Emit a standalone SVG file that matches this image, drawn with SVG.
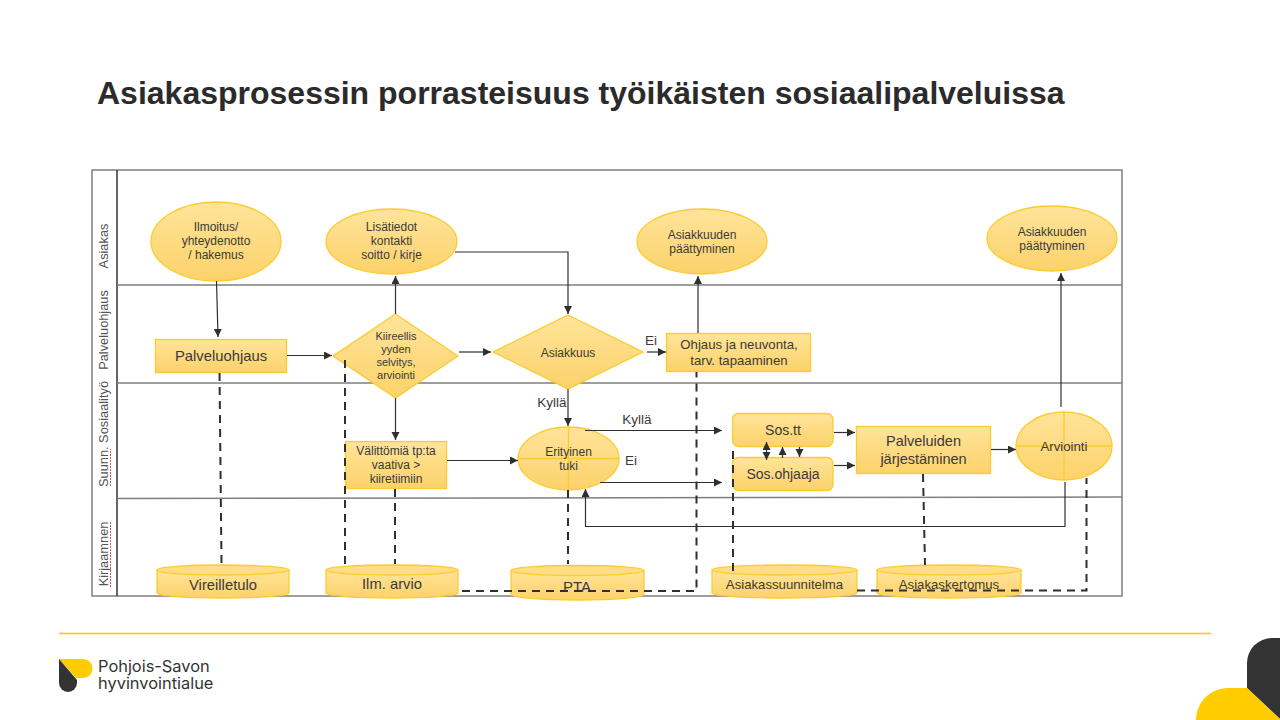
<svg xmlns="http://www.w3.org/2000/svg" width="1280" height="720" viewBox="0 0 1280 720">
<style>
text{font-family:"Liberation Sans",Arial,sans-serif;fill:#3a3a3a;text-anchor:middle}
.n{fill:url(#g);stroke:#fdcb2e;stroke-width:1.3}
.top{fill:#fedd84;stroke:#fdcb2e;stroke-width:1.3}
.x{stroke:#fdcb2e;stroke-width:1.3;fill:none}
.s{font-size:12px}
.m{font-size:13.200px}
.t{font-size:14px}
.l{font-size:14.800px}
.k{font-size:11px}
.b{fill:none;stroke:#7f7f7f;stroke-width:1.5}
.c{fill:none;stroke:#2f2f2f;stroke-width:1.2;marker-end:url(#a)}
.d{fill:none;stroke:#2f2f2f;stroke-width:2;stroke-dasharray:8 6}
.r{font-size:12.800px;fill:#555}
.w{fill:none;stroke:#d9534f;stroke-width:1;stroke-dasharray:2 1}
</style>
<defs>
<linearGradient id="g" x1="0" y1="0" x2="0" y2="1"><stop offset="0" stop-color="#ffe49a"/><stop offset="1" stop-color="#fcd26a"/></linearGradient>
<marker id="a" markerUnits="userSpaceOnUse" markerWidth="9" markerHeight="9" refX="8" refY="4" orient="auto"><path d="M0 0L8 4L0 8Z" fill="#2f2f2f"/></marker>
</defs>
<rect width="1280" height="720" fill="#fff"/>
<text x="97" y="104" style="font-size:32px;font-weight:bold;text-anchor:start;fill:#2b2b2b">Asiakasprosessin porrasteisuus työikäisten sosiaalipalveluissa</text>
<g id="lanes">
<rect class="b" x="92" y="170" width="1030" height="426"/>
<path d="M117 170V596" fill="none" stroke="#333" stroke-width="1.5"/>
<path class="b" d="M117 285H1122M117 383H1122M117 498.500L1122 497"/>
<text class="r" transform="translate(108,246) rotate(-90)">Asiakas</text>
<text class="r" transform="translate(108,330) rotate(-90)">Palveluohjaus</text>
<text class="r" transform="translate(108,434) rotate(-90)">Suunn. Sosiaalityö</text>
<text class="r" transform="translate(108,554) rotate(-90)">Kirjaamnen</text>
<path class="w" d="M110.500 486V449M110.500 587V522"/>
</g>
<g id="nodes-back">
<g id="n-vireilletulo"><path class="n" d="M157 570V593A66 5 0 0 0 289 593V570"/><ellipse class="top" cx="223" cy="570" rx="66" ry="5"/><text class="l" x="223" y="590">Vireilletulo</text></g>
<g id="n-ilmarvio"><path class="n" d="M326 570V593A66 5 0 0 0 458 593V570"/><ellipse class="top" cx="392" cy="570" rx="66" ry="5"/><text class="l" x="392" y="589">Ilm. arvio</text></g>
<g id="n-pta"><path class="n" d="M511 570.500V594.500A66.500 5.500 0 0 0 644 594.500V570.500"/><ellipse class="top" cx="577.500" cy="570.500" rx="66.500" ry="5"/><text x="577" y="592" style="font-size:15px">PTA</text></g>
<g id="n-suunnitelma"><path class="n" d="M712 570V593A72.500 5 0 0 0 857 593V570"/><ellipse class="top" cx="784.500" cy="570" rx="72.500" ry="5"/><text class="m" x="784.500" y="589">Asiakassuunnitelma</text></g>
<g id="n-kertomus"><path class="n" d="M877 570V593A72 5 0 0 0 1021 593V570"/><ellipse class="top" cx="949" cy="570" rx="72" ry="5"/><text class="m" x="949" y="589">Asiakaskertomus</text></g>
<g id="n-ilmoitus"><ellipse class="n" cx="216" cy="241.500" rx="65" ry="39.500"/><text class="s" x="216" y="231">Ilmoitus/</text><text class="s" x="216" y="245">yhteydenotto</text><text class="s" x="216" y="259">/ hakemus</text></g>
<g id="n-lisatiedot"><ellipse class="n" cx="391.500" cy="241.500" rx="65.500" ry="32.500"/><text class="s" x="391.500" y="231">Lisätiedot</text><text class="s" x="391.500" y="245">kontakti</text><text class="s" x="391.500" y="259">soitto / kirje</text></g>
<g id="n-paattyminen1"><ellipse class="n" cx="702" cy="241.500" rx="65" ry="32.500"/><text class="s" x="702" y="239">Asiakkuuden</text><text class="s" x="702" y="253">päättyminen</text></g>
<g id="n-paattyminen2"><ellipse class="n" cx="1052" cy="238.500" rx="65" ry="32.500"/><text class="s" x="1052" y="236">Asiakkuuden</text><text class="s" x="1052" y="250">päättyminen</text></g>
<g id="n-palveluohjaus"><rect class="n" x="155.500" y="339.500" width="131" height="33"/><text class="l" x="221" y="361">Palveluohjaus</text></g>
<g id="n-kiireellisyys"><path class="n" d="M395.500 314L458 356L395.500 398L333 356Z"/><text class="k" x="396" y="340">Kiireellis</text><text class="k" x="396" y="353">yyden</text><text class="k" x="396" y="366">selvitys,</text><text class="k" x="396" y="379">arviointi</text></g>
<g id="n-asiakkuus"><path class="n" d="M568 315L643 352L568 389L493 352Z"/><text class="s" x="568" y="357">Asiakkuus</text></g>
<g id="n-ohjaus"><rect class="n" x="666.500" y="333.500" width="144" height="38"/><text class="m" x="739" y="349">Ohjaus ja neuvonta,</text><text class="m" x="739" y="365">tarv. tapaaminen</text></g>
<g id="n-valittomia"><rect class="n" x="345.500" y="441.500" width="101" height="47"/><text class="s" x="396" y="455">Välittömiä tp:ta</text><text class="s" x="396" y="469">vaativa &gt;</text><text class="s" x="396" y="483">kiiretiimiin</text></g>
<g id="n-erityinen"><ellipse class="n" cx="568.500" cy="458.500" rx="50.500" ry="31.500"/><path class="x" d="M518 458.500H619M568.500 427V490"/><text class="s" x="568.500" y="456">Erityinen</text><text class="s" x="568.500" y="470">tuki</text></g>
<g id="n-sostt"><rect class="n" x="732.500" y="413.500" width="100.500" height="33" rx="6"/><text class="t" x="783" y="435">Sos.tt</text></g>
<g id="n-sosohjaaja"><rect class="n" x="732.500" y="457.500" width="100.500" height="33" rx="6"/><text class="t" x="783" y="479">Sos.ohjaaja</text></g>
<g id="n-palveluiden"><rect class="n" x="856.500" y="426.500" width="134" height="47"/><text class="l" x="923.500" y="446" style="font-size:14.500px">Palveluiden</text><text class="l" x="923.500" y="464" style="font-size:14.500px">järjestäminen</text></g>
<g id="n-arviointi"><ellipse class="n" cx="1064" cy="446" rx="48" ry="34"/><path class="x" d="M1016 446H1112M1064 412V480"/><text class="m" x="1064" y="451">Arviointi</text></g>
</g>
<g id="connectors">
<path class="c" d="M216.500 281L218 337"/>
<path class="c" d="M287 355.500H332"/>
<path class="c" d="M395.500 314V276"/>
<path class="c" d="M455 252H568V314"/>
<path class="c" d="M459 352H491"/>
<path class="c" d="M647 352H666"/>
<path class="c" d="M698 333V276"/>
<path class="c" d="M395.500 398V440"/>
<path class="c" d="M447 460.500H518"/>
<path class="c" d="M568 389V426"/>
<path class="c" d="M585 430.500H722"/>
<path class="c" d="M600 482.500H722"/>
<path class="c" d="M834 432.500H855"/>
<path class="c" d="M834 465.500H855"/>
<path class="c" d="M991 449.500H1016"/>
<path class="c" d="M1061 407V273"/>
<path class="c" d="M1065 482V526.500H585.500V489"/>
<path class="c" d="M766.500 451V460"/>
<path class="c" d="M766.500 451V442"/>
<path class="c" d="M782.500 458V447"/>
<path class="c" d="M799.500 447V457"/>
<path class="d" d="M219.500 373L221.500 564"/>
<path class="d" d="M345 360V564"/>
<path class="d" d="M395 489V564"/>
<path class="d" d="M568 490V564"/>
<path class="d" d="M462 591H696.500V372"/>
<path class="d" d="M733 451V571"/>
<path class="d" d="M923 474L925 565"/>
<path class="d" d="M857 590.500H1086.500V478"/>
</g>
<g id="labels">
<text x="552" y="407" style="font-size:13.500px">Kyllä</text>
<text x="637" y="424" style="font-size:13.500px">Kyllä</text>
<text x="631" y="465" style="font-size:13.500px">Ei</text>
<text x="651" y="345" style="font-size:13.500px">Ei</text>
</g>
<g id="footer">
<rect x="59" y="632.700" width="1152" height="1.600" fill="#ffcc00"/>
<path d="M59 659H83A9.500 9.500 0 0 1 83 678H76Z" fill="#ffcc00"/>
<path d="M59 659L77 680V683A9 9 0 0 1 59 683Z" fill="#333"/>
<text style="font-family:Inter,'Liberation Sans',sans-serif;font-size:16.400px;text-anchor:start;fill:#333"><tspan x="98" y="671.500">Pohjois-Savon</tspan><tspan x="98" y="688.500">hyvinvointialue</tspan></text>
<path d="M1280 638H1272A25 25 0 0 0 1247 663V688L1280 719Z" fill="#333"/>
<path d="M1196 720A32 32 0 0 1 1226 688H1247L1281 720Z" fill="#ffcc00"/>
</g>
</svg>
